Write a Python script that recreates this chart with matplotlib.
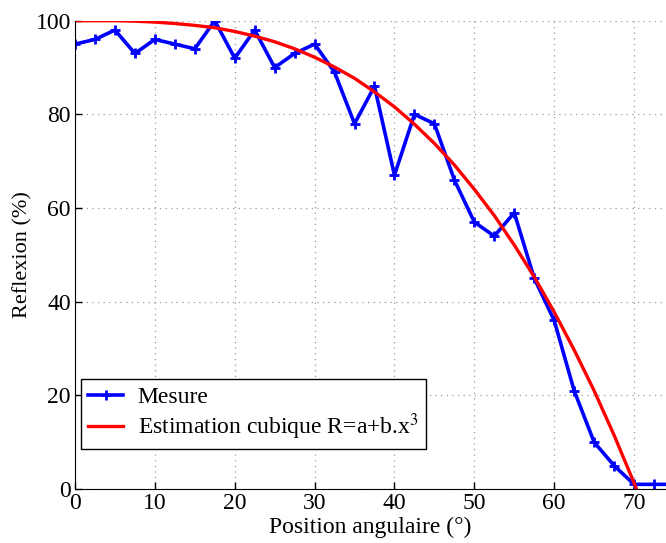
import matplotlib
matplotlib.use("Agg")
import matplotlib.pyplot as plt

# mesures (angle en degres, reflexion en %)
angles = [0, 2.5, 5, 7.5, 10, 12.5, 15, 17.5, 20, 22.5, 25, 27.5, 30, 32.5, 35,
          37.5, 40, 42.5, 45, 47.5, 50, 52.5, 55, 57.5, 60, 62.5, 65, 67.5, 70, 72.5, 75]
mesure = [95, 96, 98, 93, 96, 95, 94, 100, 92, 98, 90, 93, 95, 89, 78,
          86, 67, 80, 78, 66, 57, 54, 59, 45, 36, 21, 10, 5, 1, 1, 1]

# estimation cubique
angles_fit = [0, 2.5, 5, 7.5, 10, 12.5, 15, 17.5, 20, 22.5, 25, 27.5, 30, 32.5, 35,
              37.5, 40, 42.5, 45, 47.5, 50, 52.5, 55, 57.5, 60, 62.5, 65, 67.5, 70, 70.3]
estimation = [100, 100, 100, 99.9, 99.7, 99.4, 99.0, 98.5, 97.7, 96.7, 95.5, 94.0, 92.2, 90.1, 87.7,
              84.8, 81.6, 77.9, 73.8, 69.2, 64.0, 58.4, 52.1, 45.3, 37.8, 29.7, 21.0, 11.5, 1.3, 0]

plt.rcParams['font.family'] = ['Liberation Serif', 'DejaVu Serif']
plt.rcParams['mathtext.fontset'] = 'stix'

fig = plt.figure(figsize=(6.66, 5.43), dpi=100)
ax = fig.add_axes([0.1126, 0.0994, 0.8874, 0.8625])

ax.plot(angles, mesure, color='blue', lw=2.6, marker='+', ms=7, mew=2, label="Mesure")
ax.plot(angles_fit, estimation, color='red', lw=2.4, label="Estimation cubique R=a+b.x$^3$")

ax.set_xlim(0, 74)
ax.set_ylim(0, 100)
ax.set_xticks(range(0, 80, 10))
ax.set_yticks(range(0, 101, 20))
ax.tick_params(labelsize=17, direction='in', length=5, width=1, pad=3)
ax.set_xlabel("Position angulaire (°)", fontsize=17, labelpad=2)
ax.set_ylabel("Reflexion (%)", fontsize=16, labelpad=2)

ax.spines['top'].set_visible(False)
ax.spines['right'].set_visible(False)
ax.grid(True, linestyle=(0, (1, 3.5)), color='#999999', lw=0.9)

leg = ax.legend(loc='lower left', bbox_to_anchor=(0.01, 0.085), borderaxespad=0,
                fontsize=17, fancybox=False, framealpha=1, edgecolor='black',
                handlelength=1.5, handletextpad=0.6, borderpad=0.3, labelspacing=0.15)
leg.get_frame().set_linewidth(1)

fig.savefig("out.png", dpi=100)
